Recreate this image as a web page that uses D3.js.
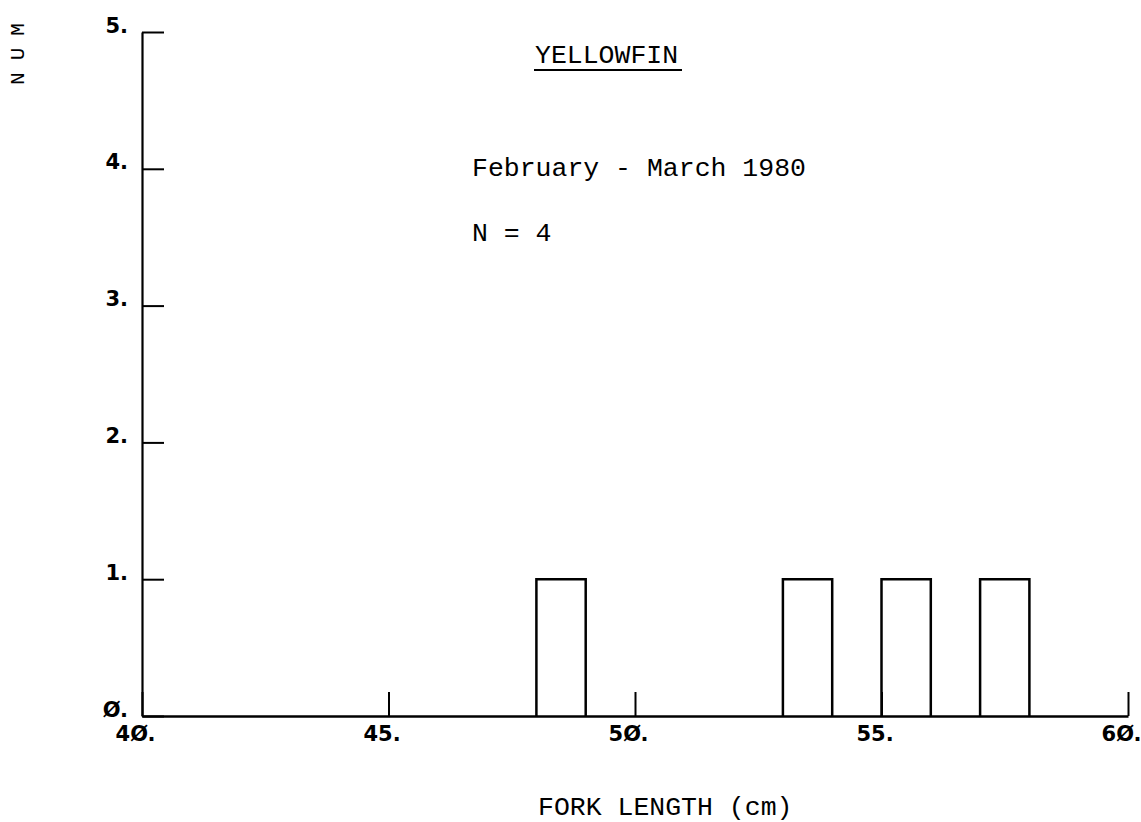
<!DOCTYPE html>
<html><head><meta charset="utf-8">
<script src="https://cdn.jsdelivr.net/npm/d3@7"></script>
<style>body{margin:0;background:#fff}</style>
</head><body>
<svg id="c" width="1141" height="822"></svg>
<script>
const binStarts = [40,41,42,43,44,45,46,47,48,49,50,51,52,53,54,55,56,57,58,59];
const counts    = [0,0,0,0,0,0,0,0,1,0,0,0,0,1,0,1,0,1,0,0];
const binWidth = 1;
const xTicks = [40,45,50,55,60];
const xTickLabels = ["4Ø.","45.","5Ø.","55.","6Ø."];
const yTicks = [0,1,2,3,4,5];
const yTickLabels = ["Ø.","1.","2.","3.","4.","5."];
const title = "YELLOWFIN";
const subtitle = "February - March 1980";
const nLabel = "N = 4";
const xTitle = "FORK LENGTH (cm)";
const yTitle = "NUM";

const svg = d3.select("#c");
const x = d3.scaleLinear().domain([40,60]).range([142,1128]);
const y = d3.scaleLinear().domain([0,5]).range([716,32]);
const labelFont = "'DejaVu Sans', sans-serif";
const typeFont = "'Courier New', 'Liberation Mono', monospace";

// x axis
const xa = svg.append("g").attr("transform",`translate(0,${y(0)})`)
  .call(d3.axisBottom(x).tickValues(xTicks).tickFormat((d,i)=>xTickLabels[i]).tickSize(-24).tickSizeOuter(0).tickPadding(10));
xa.select(".domain").attr("stroke-width",2.5);
xa.selectAll(".tick line").attr("stroke-width",2);
xa.selectAll(".tick text").attr("font-family",labelFont).attr("font-weight","bold").attr("font-size",21).attr("dx",-7).attr("fill","#000");

// y axis
const ya = svg.append("g").attr("transform",`translate(${x(40)},0)`)
  .call(d3.axisLeft(y).tickValues(yTicks).tickFormat((d,i)=>yTickLabels[i]).tickSize(-22).tickSizeOuter(0).tickPadding(14));
ya.select(".domain").attr("stroke-width",2.2);
ya.selectAll(".tick line").attr("stroke-width",2);
ya.selectAll(".tick text").attr("font-family",labelFont).attr("font-weight","bold").attr("font-size",21).attr("dy","0").attr("fill","#000");

// bars
const data = binStarts.map((b,i)=>({b, c:counts[i]})).filter(d=>d.c>0);
svg.append("g").selectAll("path").data(data).join("path")
  .attr("d", d => `M${x(d.b)},${y(0)}V${y(d.c)}H${x(d.b+binWidth)}V${y(0)}`)
  .attr("fill","none").attr("stroke","#000").attr("stroke-width",2.5);

// texts
svg.append("text").attr("x",535).attr("y",63).attr("font-family",typeFont).attr("font-size",26.5).text(title);
svg.append("line").attr("x1",534).attr("x2",682).attr("y1",70).attr("y2",70).attr("stroke","#000").attr("stroke-width",2);
svg.append("text").attr("x",472).attr("y",176).attr("font-family",typeFont).attr("font-size",26.5).text(subtitle);
svg.append("text").attr("x",472).attr("y",241).attr("font-family",typeFont).attr("font-size",26.5).text(nLabel);
svg.append("text").attr("x",538).attr("y",815).attr("font-family",typeFont).attr("font-size",26.5).text(xTitle);
svg.append("text").attr("transform","translate(24,48) rotate(-90)").attr("text-anchor","middle")
  .attr("font-family",typeFont).attr("font-size",21).attr("letter-spacing",12).text(yTitle);
</script>
</body></html>
